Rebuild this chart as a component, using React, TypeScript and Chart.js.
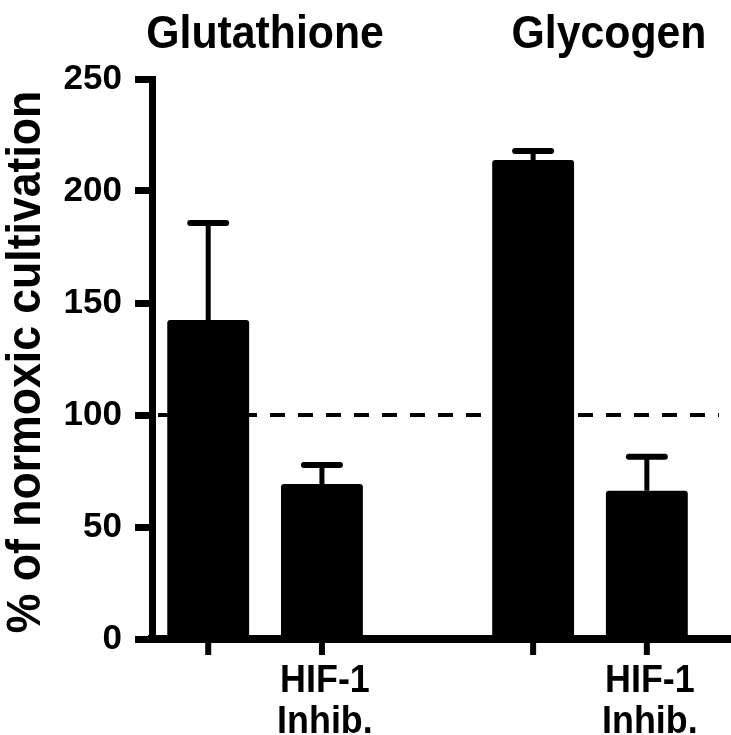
import React, { useEffect, useRef } from "react";
import { Chart, registerables } from "chart.js";

Chart.register(...registerables);

// ---- data ----
const groups = ["Glutathione", "Glycogen"];
const controlMeans = [142.4, 213.8];
const controlErrors = [43.3, 4.1];
const inhibitorMeans = [69.2, 66.2];
const inhibitorErrors = [8.5, 15.2];
const seriesLabels = ["", "HIF-1\nInhib."];
const yTickMax = 250;
const yTickStep = 50;
const referenceValue = 100;
const yTitle = "% of normoxic cultivation";

const FONT = "'Liberation Sans', Arial, Helvetica, sans-serif";

// draw text horizontally condensed (taller-looking glyphs)
function condensedText(ctx: any, text: string, x: number, y: number, size: number, squeeze: number) {
  ctx.save();
  ctx.translate(x, y);
  ctx.scale(squeeze, 1);
  ctx.font = `bold ${size}px ${FONT}`;
  ctx.fillText(text, 0, 0);
  ctx.restore();
}

const annotationPlugin = {
  id: "figureExtras",
  beforeDatasetsDraw(chart: any) {
    const { ctx, chartArea, scales } = chart;
    const y = scales.y.getPixelForValue(referenceValue);
    ctx.save();
    ctx.strokeStyle = "#000";
    ctx.lineWidth = 4;
    ctx.setLineDash([15, 13]);
    ctx.lineDashOffset = -6;
    ctx.beginPath();
    ctx.moveTo(chartArea.left, y);
    ctx.lineTo(chartArea.right - 12, y);
    ctx.stroke();
    ctx.restore();
  },
  afterDatasetsDraw(chart: any) {
    const { ctx, chartArea, scales } = chart;
    const yScale = scales.y;
    const errorSets = [controlErrors, inhibitorErrors];
    const meanSets = [controlMeans, inhibitorMeans];
    ctx.save();
    ctx.strokeStyle = "#000";
    ctx.fillStyle = "#000";
    // error bars
    chart.data.datasets.forEach((_ds: any, di: number) => {
      const meta = chart.getDatasetMeta(di);
      meta.data.forEach((el: any, i: number) => {
        const top = yScale.getPixelForValue(meanSets[di][i] + errorSets[di][i]);
        ctx.lineCap = "butt";
        ctx.lineWidth = 5;
        ctx.beginPath();
        ctx.moveTo(el.x, el.y);
        ctx.lineTo(el.x, top);
        ctx.stroke();
        ctx.lineCap = "round";
        ctx.lineWidth = 6;
        ctx.beginPath();
        ctx.moveTo(el.x - 18, top);
        ctx.lineTo(el.x + 18, top);
        ctx.stroke();
      });
    });
    // x tick marks and series labels
    ctx.lineCap = "butt";
    ctx.textAlign = "center";
    ctx.textBaseline = "alphabetic";
    chart.data.datasets.forEach((_ds: any, di: number) => {
      const meta = chart.getDatasetMeta(di);
      meta.data.forEach((el: any) => {
        ctx.fillRect(el.x - 3, chartArea.bottom, 6, 16);
        const lines = seriesLabels[di] ? seriesLabels[di].split("\n") : [];
        lines.forEach((ln: string, li: number) => {
          condensedText(ctx, ln, el.x + 3, chartArea.bottom + 53 + li * 41, 39, 0.92);
        });
      });
    });
    // group titles
    const titleShift = [0, 19];
    const m0 = chart.getDatasetMeta(0);
    const m1 = chart.getDatasetMeta(1);
    groups.forEach((g, i) => {
      const cx = (m0.data[i].x + m1.data[i].x) / 2 + titleShift[i];
      condensedText(ctx, g, cx, 48, 47, 0.91);
    });
    // y title
    ctx.save();
    ctx.translate(40, (chartArea.top + chartArea.bottom) / 2 + 3);
    ctx.rotate(-Math.PI / 2);
    ctx.textAlign = "center";
    condensedText(ctx, yTitle, 0, 0, 49, 0.91);
    ctx.restore();
    ctx.restore();
  },
};

export default function App() {
  const canvasRef = useRef<HTMLCanvasElement | null>(null);

  useEffect(() => {
    if (!canvasRef.current) return;
    const chart = new Chart(canvasRef.current, {
      type: "bar",
      data: {
        datasets: [
          {
            label: "Control",
            data: groups.map((_g, i) => ({ x: i, y: controlMeans[i] })),
            backgroundColor: "#000",
            borderRadius: 3,
            categoryPercentage: 0.7,
            barPercentage: 0.72,
          },
          {
            label: "HIF-1 Inhib.",
            data: groups.map((_g, i) => ({ x: i, y: inhibitorMeans[i] })),
            backgroundColor: "#000",
            borderRadius: 3,
            categoryPercentage: 0.7,
            barPercentage: 0.72,
          },
        ] as any,
      },
      options: {
        animation: false,
        responsive: false,
        layout: { padding: { top: 79, left: 0, right: 0, bottom: 0 } },
        plugins: {
          legend: { display: false },
          tooltip: { enabled: false },
        },
        scales: {
          x: {
            type: "linear",
            offset: false,
            min: -0.348,
            max: 1.434,
            afterBuildTicks: (scale: any) => {
              scale.ticks = groups.map((_g, i) => ({ value: i }));
            },
            afterFit: (scale: any) => {
              scale.height = 96;
            },
            ticks: { display: false },
            grid: {
              display: true,
              drawOnChartArea: false,
              drawTicks: false,
              color: "rgba(0,0,0,0)",
              lineWidth: 0,
            },
            border: { display: true, color: "#000", width: 8 },
          },
          y: {
            min: 0,
            max: yTickMax,
            afterFit: (scale: any) => {
              scale.width = 152;
            },
            ticks: {
              stepSize: yTickStep,
              color: "#000",
              padding: 13,
              font: { family: FONT, size: 35, weight: "bold" },
            },
            grid: {
              drawOnChartArea: false,
              drawTicks: true,
              tickLength: 17,
              lineWidth: 7,
              color: "#000",
            },
            border: { display: true, color: "#000", width: 7 },
          },
        },
      } as any,
      plugins: [annotationPlugin],
    });
    return () => chart.destroy();
  }, []);

  return (
    <div
      style={{
        position: "fixed",
        left: 0,
        top: 0,
        width: 731,
        height: 735,
        background: "#fff",
      }}
    >
      <canvas
        ref={canvasRef}
        width={731}
        height={735}
        style={{ display: "block", width: 731, height: 735 }}
      />
    </div>
  );
}
